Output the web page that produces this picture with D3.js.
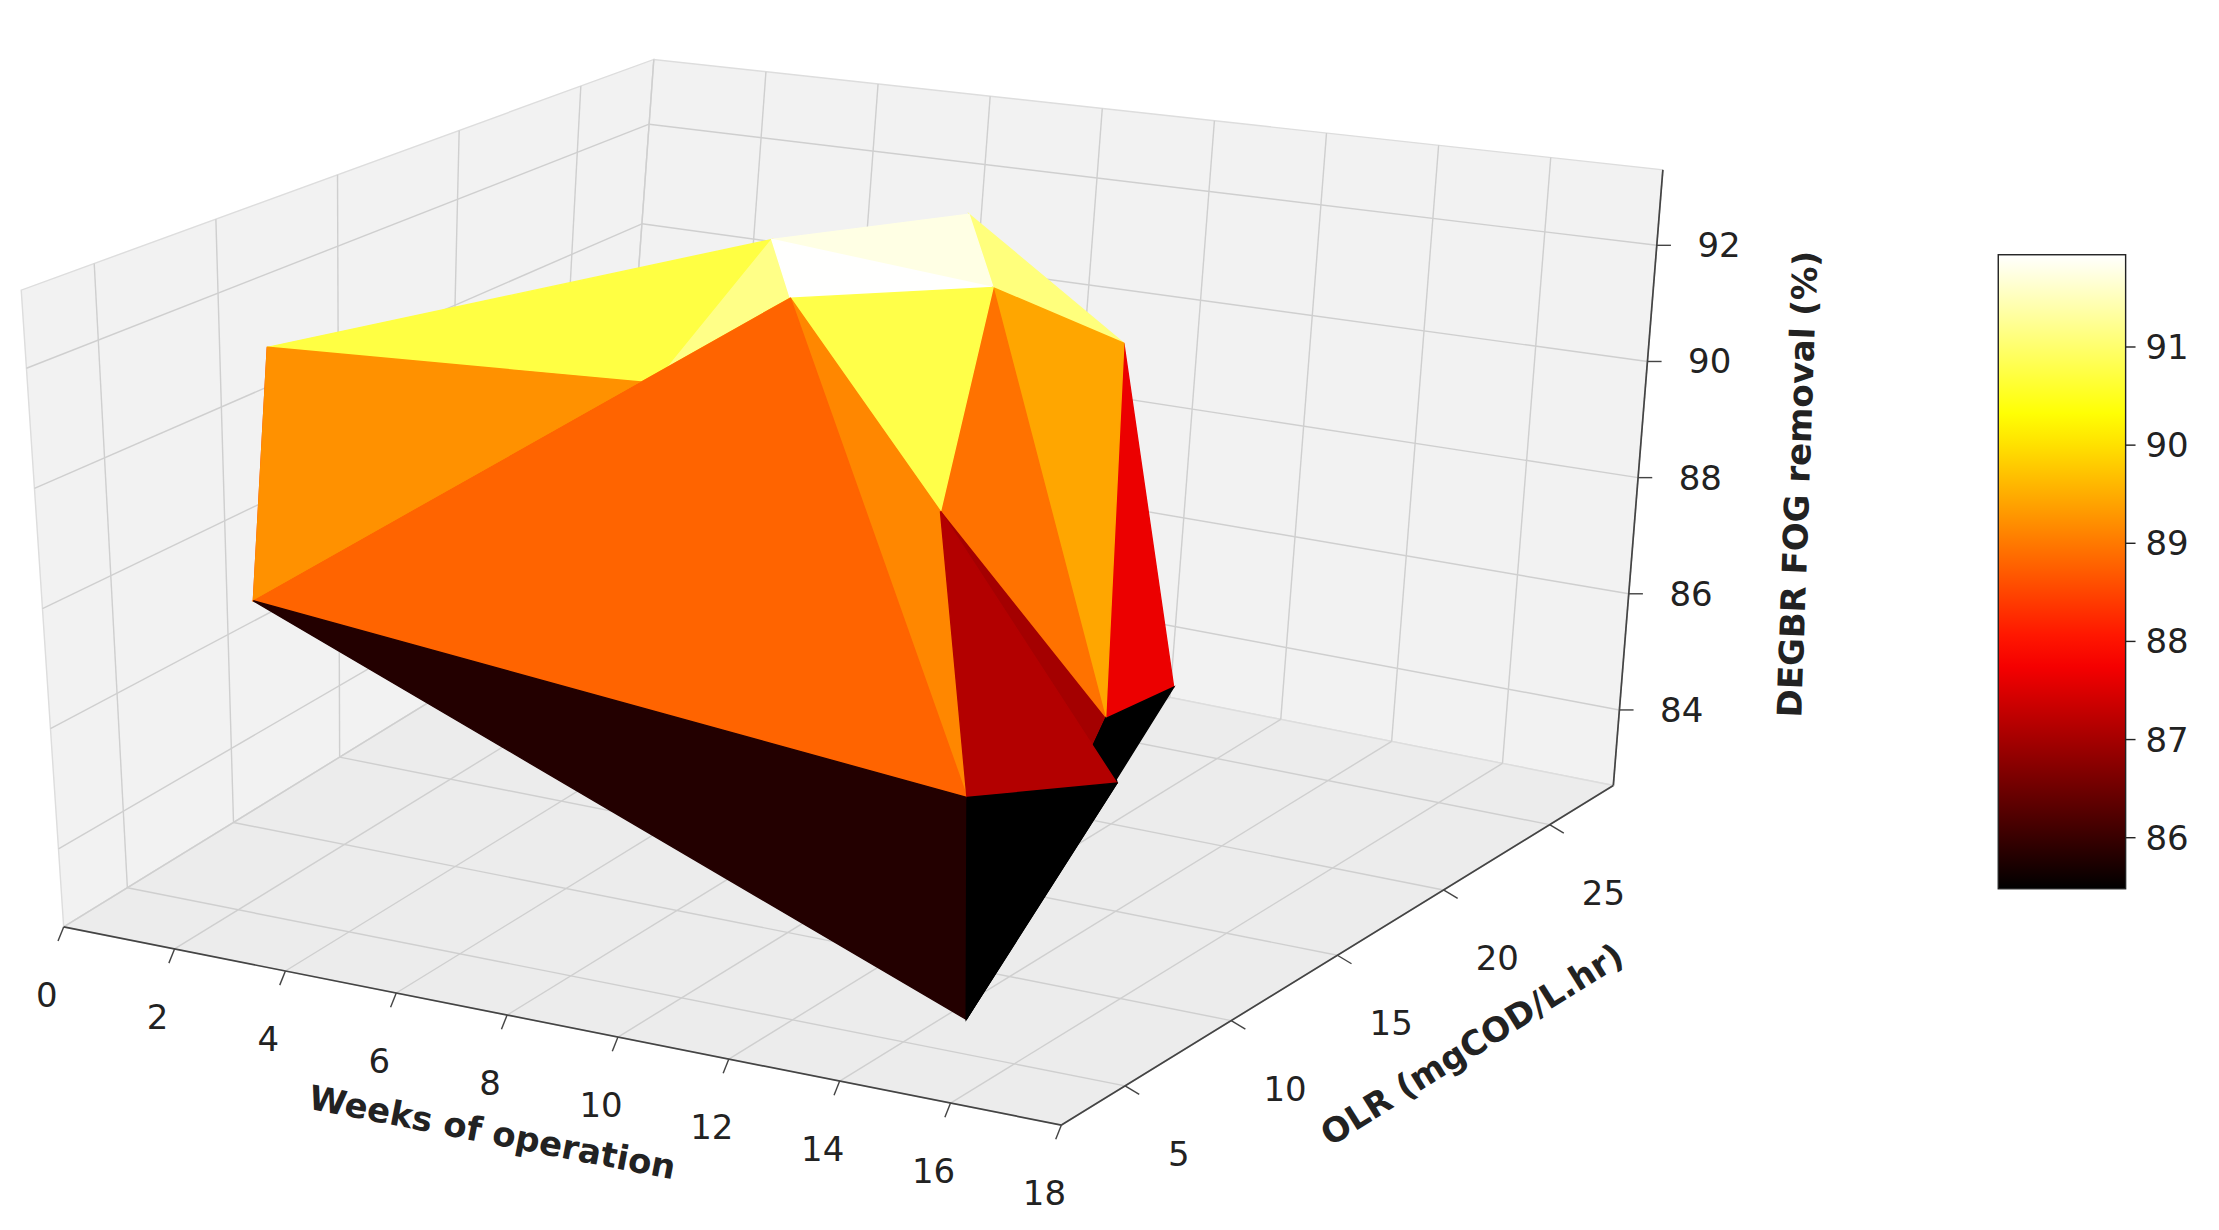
<!DOCTYPE html>
<html><head><meta charset="utf-8">
<script src="https://cdnjs.cloudflare.com/ajax/libs/d3/7.8.5/d3.min.js"></script>
<style>body{margin:0;background:#fff}svg{display:block}</style>
</head><body>
<svg id="c" width="2219" height="1230"></svg>
<script>
// ---- data ----
const weekTicks = [0,2,4,6,8,10,12,14,16,18];
const olrTicks = [5,10,15,20,25];
const zTicks = [84,86,88,90,92];
const cbTicks = [86,87,88,89,90,91];
// vertices: weeks, OLR, removal
const vWeeks = [0, 1.8, 5.7, 6.6, 10.3, 8, 10, 10.3, 15.8, 14.8, 15, 14.9, 15.9, 4.3, 0.3];
const vOLR   = [12, 6.8, 19.8, 26, 24, 15.2, 19, 16.2, 3.8, 5.9, 15, 12.2, 10.2, 18.3, 11];
const vFOG   = [90.7, 87.5, 92, 91.5, 90, 92, 91.8, 88.5, 86.9, 83, 86.5, 86.5, 86, 89.5, 87];
// A0 B1 C2 D3 E4 I5 J6 K7 H8 G9 F10 M11 N12 Q13 L14
const triangles = [[0,2,13],[2,3,6],[3,4,6],[2,5,6],[13,2,5],[0,13,1],[13,5,1],[1,5,8],[5,6,7],[5,7,8],[7,8,12],[6,7,11],[7,12,11],[6,4,11],[4,10,11],[1,8,9],[8,12,9],[12,11,9],[11,10,9],[0,14,1]];

const W=[0,18], O=[2,28], Z=[82.7,93.3], CB=[85.48,91.94];
const sW=d3.scaleLinear().domain(W).range([0,1]);
const sO=d3.scaleLinear().domain(O).range([0,1]);
const sZ=d3.scaleLinear().domain(Z).range([0,1]);
const V00=[-30,-450],V10=[-22,-512],V01=[27,-373];
function proj(w,o,z){
  const a=sW(w),b=sO(o),c=sZ(z);
  const bx=45+705*a+390*b, by=655+140*a-240*b;
  const vx=V00[0]+a*(V10[0]-V00[0])+b*(V01[0]-V00[0]);
  const vy=V00[1]+a*(V10[1]-V00[1])+b*(V01[1]-V00[1]);
  return [bx+c*vx, by+c*vy];
}
function hot(t){t=Math.max(0,Math.min(1,t));
  const r=Math.min(1,t/0.365),g=Math.max(0,Math.min(1,(t-0.365)/0.38)),b=Math.max(0,Math.min(1,(t-0.746)/0.254));
  return d3.rgb(r*255,g*255,b*255);}
const sCol=d3.scaleLinear().domain(CB).range([0,1]).clamp(true);

const svg=d3.select('#c');
const g=svg.append('g').attr('transform','scale(1.4152)');
const line=d3.line();
function poly(pts,fill,stroke){g.append('path').attr('d',line(pts)+'Z').attr('fill',fill).attr('stroke',stroke||'none');}
// panes
const z0=Z[0],z1=Z[1];
poly([proj(0,O[0],z0),proj(0,O[1],z0),proj(0,O[1],z1),proj(0,O[0],z1)],'#f2f2f2','#ddd');
poly([proj(0,O[1],z0),proj(18,O[1],z0),proj(18,O[1],z1),proj(0,O[1],z1)],'#f2f2f2','#ddd');
poly([proj(0,O[0],z0),proj(18,O[0],z0),proj(18,O[1],z0),proj(0,O[1],z0)],'#ececec','#ddd');
function seg(p,q,col,wd){g.append('line').attr('x1',p[0]).attr('y1',p[1]).attr('x2',q[0]).attr('y2',q[1]).attr('stroke',col).attr('stroke-width',wd||1);}
const gc='#cfcfcf';
olrTicks.forEach(o=>{seg(proj(0,o,z0),proj(0,o,z1),gc);seg(proj(0,o,z0),proj(18,o,z0),gc);});
zTicks.forEach(z=>{seg(proj(0,O[0],z),proj(0,O[1],z),gc);seg(proj(0,O[1],z),proj(18,O[1],z),gc);});
weekTicks.forEach(w=>{seg(proj(w,O[1],z0),proj(w,O[1],z1),gc);seg(proj(w,O[0],z0),proj(w,O[1],z0),gc);});
// axes lines
seg(proj(0,O[0],z0),proj(18,O[0],z0),'#444',1.2);
seg(proj(18,O[0],z0),proj(18,O[1],z0),'#444',1.2);
seg(proj(18,O[1],z0),proj(18,O[1],z1),'#444',1.2);
const fs=24;
function txt(x,y,s,opt){const t=g.append('text').attr('x',x).attr('y',y).text(s).attr('font-family','DejaVu Sans').attr('font-size',opt&&opt.fs||fs).attr('fill','#222').attr('text-anchor',opt&&opt.anchor||'middle').attr('dominant-baseline','central');
  if(opt&&opt.bold)t.attr('font-weight','bold'); if(opt&&opt.rot!=null)t.attr('transform',`rotate(${opt.rot},${x},${y})`);return t;}
weekTicks.forEach(w=>{const p=proj(w,O[0],z0);seg(p,[p[0]-4,p[1]+10],'#444');txt(p[0]-12,p[1]+48,w);});
olrTicks.forEach(o=>{const p=proj(18,o,z0);seg(p,[p[0]+10,p[1]+6],'#444');txt(p[0]+38,p[1]+48,o);});
zTicks.forEach(z=>{const p=proj(18,O[1],z);seg(p,[p[0]+10,p[1]],'#444');txt(p[0]+44,p[1],z);});
txt(348,800,'Weeks of operation',{bold:true,rot:11});
txt(1040,738,'OLR (mgCOD/L.hr)',{bold:true,rot:-32});
txt(1270,342,'DEGBR FOG removal (%)',{bold:true,rot:-88});
// surface
const faces=triangles.map(tr=>{
  const pts=tr.map(i=>proj(vWeeks[i],vOLR[i],vFOG[i]));
  const mz=d3.mean(tr,i=>vFOG[i]);
  const depth=d3.mean(tr,i=>0.433*sW(vWeeks[i])-0.75*sO(vOLR[i])+0.5*sZ(vFOG[i]));
  return {pts,mz,depth};
}).sort((a,b)=>a.depth-b.depth);
faces.forEach(f=>{const c=hot(sCol(f.mz));poly(f.pts,c,c);});
// colorbar
const cbX=1412,cbW=90,cbT=180,cbB=628;
const cbS=d3.scaleLinear().domain(CB).range([cbB,cbT]);
const defs=svg.append('defs');
const grad=defs.append('linearGradient').attr('id','gr').attr('x1',0).attr('y1',1).attr('x2',0).attr('y2',0);
d3.range(0,1.0001,0.05).forEach(t=>grad.append('stop').attr('offset',t).attr('stop-color',hot(t)));
g.append('rect').attr('x',cbX).attr('y',cbT).attr('width',cbW).attr('height',cbB-cbT).attr('fill','url(#gr)').attr('stroke','#222');
cbTicks.forEach(v=>{const y=cbS(v);seg([cbX+cbW,y],[cbX+cbW+7,y],'#222');txt(cbX+cbW+14,y,v,{anchor:'start'});});
</script></body></html>
